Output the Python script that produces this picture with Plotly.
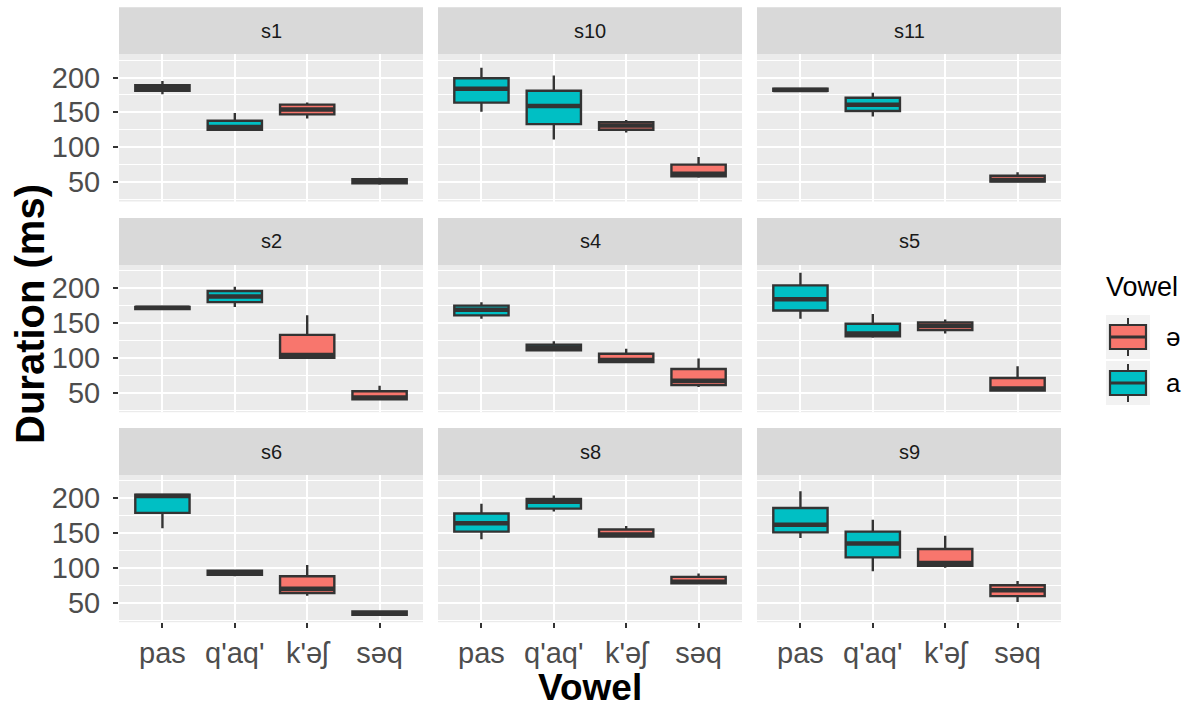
import plotly.graph_objects as go

W, H = 1193, 708

# ---------------- data ----------------
speakers = ["s1", "s10", "s11", "s2", "s4", "s5", "s6", "s8", "s9"]
categories = ["pas", "q'aq'", "k'əʃ", "səq"]
category_vowel = ["a", "a", "ə", "ə"]
vowels = ["ə", "a"]
vowel_colors = ["#F8766D", "#00BFC4"]
y_ticks = [50, 100, 150, 200]

lower = [
    [176, 124, 141, 46],
    [151, 111, 121, 56],
    [180, 144, None, 50],
    [169, 173, 99, 39],
    [156, 110, 93, 58],
    [156, 129, 135, 52],
    [157, 88, 60, 32],
    [141, 181, 144, 77],
    [143, 95, 100, 51],
]
q1 = [
    [181, 125, 147, 48],
    [164, 133, 125, 58],
    [181, 152, None, 50.5],
    [170, 180, 100, 40.5],
    [161, 111, 94, 61],
    [168, 131, 140, 53],
    [179, 90, 64, 32.5],
    [152, 185, 145, 78],
    [151, 115, 103, 59.5],
]
median = [
    [185, 129, 154, 51],
    [184, 159, 131, 62],
    [182, 161, None, 53],
    [172, 188, 104, 43],
    [169, 115, 97, 67],
    [184, 135, 146, 56],
    [203, 93, 70, 35],
    [164, 195, 148, 80],
    [162, 135, 107, 68],
]
q3 = [
    [189, 138, 161, 54],
    [199, 181, 136, 75],
    [184, 171, None, 59],
    [173, 196, 133, 52],
    [175, 119, 106, 84],
    [204, 149, 151, 71],
    [205, 96, 88, 37.5],
    [178, 199, 155, 87],
    [186, 152, 127, 75],
]
upper = [
    [195, 149, 164, 56],
    [214, 203, 139, 86],
    [185, 178, None, 64],
    [174, 202, 161, 60],
    [180, 124, 113, 99],
    [222, 163, 155, 88],
    [205, 97, 104, 38.5],
    [192, 204, 160, 92],
    [210, 169, 146, 81],
]

# ---------------- geometry (pixels) ----------------
FONT = "Liberation Sans, Arial, sans-serif"
col_px = [(119, 423), (438, 742), (757, 1061)]
row_top = [54.3, 265, 475]
panel_h = 147.2
strip_h = 47
BOX_W = 0.75
LINE = "#333333"


def px(x):
    return x / W


def py(y):
    return 1 - y / H


fig = go.Figure()
shapes = []
annotations = []
layout = {}

for idx, spk in enumerate(speakers):
    r, c = divmod(idx, 3)
    n = idx + 1
    xs = "" if n == 1 else str(n)
    x0, x1 = col_px[c]
    top = row_top[r]
    bot = top + panel_h

    layout["xaxis" + xs] = dict(
        domain=[px(x0), px(x1)], anchor="y" + xs, range=[0.4, 4.6],
        tickmode="array", tickvals=[1, 2, 3, 4], ticktext=categories,
        showticklabels=(r == 2), ticks="outside" if r == 2 else "",
        ticklen=5, tickwidth=2, tickcolor=LINE,
        tickfont=dict(family=FONT, size=29, color="#4D4D4D"),
        showgrid=True, gridcolor="white", gridwidth=2,
        zeroline=False, showline=False, fixedrange=True,
    )
    layout["yaxis" + xs] = dict(
        domain=[py(bot), py(top)], anchor="x" + xs, range=[22, 233.3],
        tickmode="array", tickvals=y_ticks,
        showticklabels=(c == 0), ticks="outside" if c == 0 else "",
        ticklen=5, tickwidth=2, tickcolor=LINE, ticklabelstandoff=7,
        tickfont=dict(family=FONT, size=29, color="#4D4D4D"),
        showgrid=True, gridcolor="white", gridwidth=2,
        minor=dict(tickvals=[25, 75, 125, 175, 225], showgrid=True,
                   gridcolor="white", gridwidth=1, ticks=""),
        zeroline=False, showline=False, fixedrange=True,
    )

    # strip
    shapes.append(dict(type="rect", xref="paper", yref="paper",
                       x0=px(x0), x1=px(x1), y0=py(top), y1=py(top - strip_h),
                       fillcolor="#D9D9D9", line=dict(width=0), layer="below"))
    annotations.append(dict(text=spk, xref="paper", yref="paper",
                            x=px((x0 + x1) / 2), y=py(top - strip_h / 2),
                            showarrow=False, xanchor="center", yanchor="middle",
                            font=dict(family=FONT, size=20, color="#1A1A1A")))

    for v, col in zip(vowels, vowel_colors):
        ids = [i for i, cv in enumerate(category_vowel)
               if cv == v and median[idx][i] is not None]
        if not ids:
            continue
        fig.add_trace(go.Box(
            x=[i + 1 for i in ids],
            lowerfence=[lower[idx][i] for i in ids],
            q1=[q1[idx][i] for i in ids],
            median=[median[idx][i] for i in ids],
            q3=[q3[idx][i] for i in ids],
            upperfence=[upper[idx][i] for i in ids],
            orientation="v", width=BOX_W, whiskerwidth=0,
            fillcolor=col, line=dict(color=LINE, width=2.4),
            boxpoints=False, name=v, showlegend=False,
            xaxis="x" + xs, yaxis="y" + xs, hoverinfo="skip",
        ))
        # thicker median line (ggplot fatten)
        mx, my = [], []
        for i in ids:
            mx += [i + 1 - BOX_W / 2, i + 1 + BOX_W / 2, None]
            my += [median[idx][i], median[idx][i], None]
        fig.add_trace(go.Scatter(
            x=mx, y=my, mode="lines", line=dict(color=LINE, width=4.5),
            showlegend=False, hoverinfo="skip",
            xaxis="x" + xs, yaxis="y" + xs,
        ))

# axis titles
annotations.append(dict(text="<b>Duration (ms)</b>", xref="paper", yref="paper",
                        x=px(30), y=py(314), textangle=-90, showarrow=False,
                        xanchor="center", yanchor="middle",
                        font=dict(family=FONT, size=40, color="black")))
annotations.append(dict(text="<b>Vowel</b>", xref="paper", yref="paper",
                        x=px(590), y=py(687), showarrow=False,
                        xanchor="center", yanchor="middle",
                        font=dict(family=FONT, size=37, color="black")))

# legend (ggplot-style keys)
annotations.append(dict(text="Vowel", xref="paper", yref="paper",
                        x=px(1104), y=py(287), showarrow=False,
                        xanchor="left", yanchor="middle",
                        font=dict(family=FONT, size=27, color="black")))
key_tops = [315, 361]
for v, col, kt in zip(vowels, vowel_colors, key_tops):
    shapes.append(dict(type="rect", xref="paper", yref="paper",
                       x0=px(1106), x1=px(1150), y0=py(kt + 44), y1=py(kt),
                       fillcolor="#F2F2F2", line=dict(width=0)))
    cx = 1128
    shapes.append(dict(type="line", xref="paper", yref="paper",
                       x0=px(cx), x1=px(cx), y0=py(kt + 3), y1=py(kt + 41),
                       line=dict(color=LINE, width=2)))
    shapes.append(dict(type="rect", xref="paper", yref="paper",
                       x0=px(1110), x1=px(1146), y0=py(kt + 34), y1=py(kt + 10),
                       fillcolor=col, line=dict(color=LINE, width=2.2)))
    shapes.append(dict(type="line", xref="paper", yref="paper",
                       x0=px(1110), x1=px(1146), y0=py(kt + 22), y1=py(kt + 22),
                       line=dict(color=LINE, width=3)))
    annotations.append(dict(text=v, xref="paper", yref="paper",
                            x=px(1164), y=py(kt + 22), showarrow=False,
                            xanchor="left", yanchor="middle",
                            font=dict(family=FONT, size=26, color="black")))

fig.update_layout(
    width=W, height=H, margin=dict(l=0, r=0, t=0, b=0),
    paper_bgcolor="white", plot_bgcolor="#EBEBEB",
    boxmode="overlay", showlegend=False,
    shapes=shapes, annotations=annotations,
    **layout,
)

fig.write_html(
    "out.html",
    config={"displayModeBar": False},
    post_script="document.body.style.margin='0px';document.body.style.overflow='hidden';",
)
